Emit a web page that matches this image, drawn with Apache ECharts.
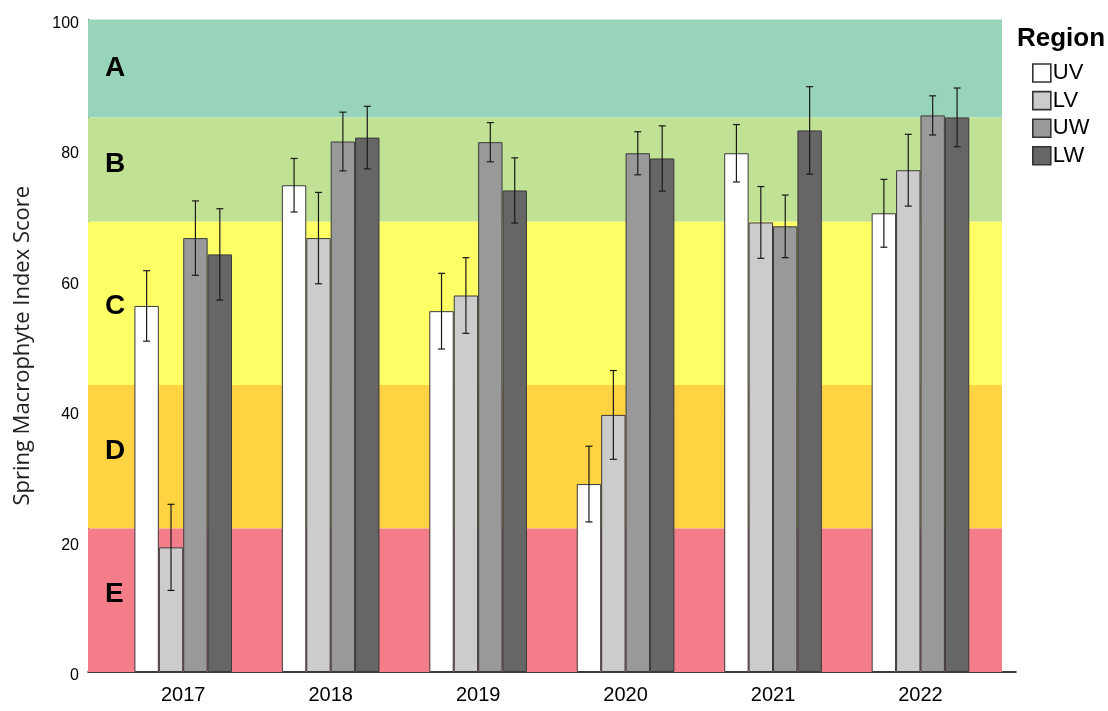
<!DOCTYPE html>
<html>
<head>
<meta charset="utf-8">
<script src="https://cdn.jsdelivr.net/npm/echarts@6/dist/echarts.min.js"></script>
<style>
  html, body { margin: 0; padding: 0; background: #fff; }
  #chart { width: 1108px; height: 711px; }
</style>
</head>
<body>
<div id="chart"></div>
<script>
// Survey years and regions
const years = ['2017', '2018', '2019', '2020', '2021', '2022'];
const regions = ['UV', 'LV', 'UW', 'LW'];

// Mean spring macrophyte index score per region and year
const uvScore = [56.1, 74.6, 55.3, 28.8, 79.5, 70.3];
const lvScore = [19.1, 66.5, 57.7, 39.4, 68.9, 76.9];
const uwScore = [66.5, 81.3, 81.2, 79.5, 68.3, 85.3];
const lwScore = [64.0, 81.9, 73.8, 78.7, 83.0, 85.0];

// Half-width of the error bar for each mean
const uvErr = [5.4, 4.1, 5.8, 5.8, 4.4, 5.2];
const lvErr = [6.6, 7.0, 5.8, 6.8, 5.5, 5.5];
const uwErr = [5.7, 4.5, 3.0, 3.3, 4.8, 3.0];
const lwErr = [7.0, 4.8, 5.0, 5.0, 6.7, 4.5];

// Condition classes and their score limits
const bandNames = ['A', 'B', 'C', 'D', 'E'];
const bandUpper = [100, 85, 69, 44, 22];
const bandLower = [85, 69, 44, 22, 0];

// Y axis ticks
const yTicks = [0, 20, 40, 60, 80, 100];

const scores = [uvScore, lvScore, uwScore, lwScore];
const errs = [uvErr, lvErr, uwErr, lwErr];

const barColors = ['#ffffff', '#cccccc', '#999999', '#666666'];
const bandColors = ['#98d4b9', '#c1e194', '#ffff66', '#ffd342', '#f47d8a'];
const bandLabelShift = [0, -5, 3, -5, -6];
const CAT_GAP = 0.338;

const chart = echarts.init(document.getElementById('chart'));

const plotTop = 19.5, plotBottom = 39;

const barSeries = regions.map((r, i) => ({
  name: r,
  type: 'bar',
  xAxisIndex: 1,
  yAxisIndex: 1,
  data: scores[i],
  barGap: '0%',
  barCategoryGap: (CAT_GAP * 100) + '%',
  itemStyle: { color: barColors[i], borderColor: '#3a3a3a', borderWidth: 1 },
  z: 3,
  animation: false
}));

// Error bars: [category, low, high, region index]
const errData = [];
regions.forEach((r, s) => {
  years.forEach((y, c) => {
    errData.push([c, scores[s][c] - errs[s][c], scores[s][c] + errs[s][c], s]);
  });
});

const errorSeries = {
  type: 'custom',
  xAxisIndex: 1,
  yAxisIndex: 1,
  data: errData,
  z: 10,
  silent: true,
  animation: false,
  encode: { x: 0, y: [1, 2] },
  renderItem: function (params, api) {
    const c = api.value(0);
    const lo = api.coord([c, api.value(1)]);
    const hi = api.coord([c, api.value(2)]);
    const bandW = api.size([1, 0])[0];
    const barW = bandW * (1 - CAT_GAP) / regions.length;
    const x = lo[0] + (api.value(3) - (regions.length - 1) / 2) * barW;
    const cap = 3.5;
    const style = { stroke: '#1a1a1a', lineWidth: 1.2 };
    return {
      type: 'group',
      children: [
        { type: 'line', shape: { x1: x, y1: hi[1], x2: x, y2: lo[1] }, style: style },
        { type: 'line', shape: { x1: x - cap, y1: hi[1], x2: x + cap, y2: hi[1] }, style: style },
        { type: 'line', shape: { x1: x - cap, y1: lo[1], x2: x + cap, y2: lo[1] }, style: style }
      ]
    };
  }
};

// Coloured condition classes drawn behind the bars
const bandSeries = {
  type: 'line',
  xAxisIndex: 0,
  yAxisIndex: 0,
  data: [],
  silent: true,
  markArea: {
    silent: true,
    data: bandNames.map((n, i) => [
      {
        name: n,
        yAxis: bandLower[i],
        itemStyle: { color: bandColors[i], opacity: 1 },
        label: {
          show: true,
          position: 'insideLeft',
          distance: 17,
          offset: [0, bandLabelShift[i]],
          color: '#000',
          fontFamily: 'Liberation Sans',
          fontWeight: 'bold',
          fontSize: 28
        }
      },
      { yAxis: bandUpper[i] }
    ])
  },
  z: 1
};

const option = {
  backgroundColor: '#ffffff',
  animation: false,
  title: {
    text: 'Region',
    left: 1012,
    top: 21,
    textStyle: { fontFamily: 'Liberation Sans', fontWeight: 'bold', fontSize: 26, color: '#000' }
  },
  legend: {
    data: regions,
    orient: 'vertical',
    left: 1027,
    top: 57,
    itemWidth: 18,
    itemHeight: 18,
    itemGap: 5.6,
    icon: 'rect',
    itemStyle: { borderColor: '#333', borderWidth: 1.6 },
    textStyle: {
      fontFamily: 'Liberation Sans', fontSize: 22, lineHeight: 18,
      color: '#000', padding: [0, 0, 0, -3]
    }
  },
  grid: [
    { left: 88, right: 106, top: plotTop, bottom: plotBottom, outerBoundsMode: 'none' },
    { left: 109.5, right: 113.8, top: plotTop, bottom: plotBottom, outerBoundsMode: 'none' },
    { left: 88, right: 92, top: plotTop, bottom: plotBottom, outerBoundsMode: 'none' }
  ],
  xAxis: [
    { type: 'value', gridIndex: 0, min: 0, max: 1, show: false },
    {
      type: 'category', gridIndex: 1, data: years,
      axisLine: { show: false }, axisTick: { show: false },
      axisLabel: { fontFamily: 'Liberation Sans', fontSize: 20, color: '#000', margin: 13 }
    },
    {
      type: 'value', gridIndex: 2, min: 0, max: 1,
      axisLine: { show: true, lineStyle: { color: '#000', width: 1.5 } },
      axisTick: { show: false }, axisLabel: { show: false }, splitLine: { show: false }
    }
  ],
  yAxis: [
    {
      type: 'value', gridIndex: 0, min: yTicks[0], max: yTicks[yTicks.length - 1], interval: 20,
      name: 'Spring Macrophyte Index Score',
      nameLocation: 'middle',
      nameGap: 54,
      nameTextStyle: { fontFamily: 'Open Sans', fontSize: 22, color: '#222' },
      axisLine: { show: true, lineStyle: { color: '#000', width: 1 } },
      axisTick: { show: false },
      splitLine: { show: false },
      axisLabel: {
        fontFamily: 'Liberation Sans', fontSize: 16, color: '#000', margin: 9,
        verticalAlign: 'top', lineHeight: 8
      }
    },
    { type: 'value', gridIndex: 1, min: 0, max: 100, show: false },
    { type: 'value', gridIndex: 2, min: 0, max: 100, show: false }
  ],
  series: [bandSeries].concat(barSeries, [errorSeries])
};

chart.setOption(option);
</script>
</body>
</html>
